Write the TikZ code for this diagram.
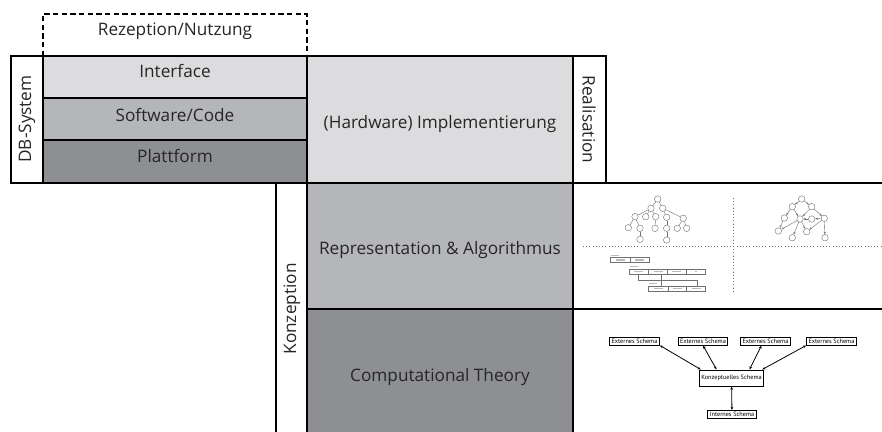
\documentclass[tikz,border=0pt]{standalone}
\usepackage{fontspec}
\setmainfont{Open Sans}
\newfontfamily\schemafont{PT Sans}
\usetikzlibrary{arrows.meta}

\newcommand{\pxu}{0.75pt}
\definecolor{layerA}{HTML}{DCDCDE}
\definecolor{layerB}{HTML}{B5B6B9}
\definecolor{layerC}{HTML}{8E8F92}
\definecolor{sketch}{HTML}{707070}

\tikzset{
	layer/.style={draw, line width=1.5pt, anchor=north west, inner sep=0pt, outer sep=0pt},
	lbl/.style={anchor=base, font=\fontsize{12.9}{15}\selectfont, text=black!85},
	side/.style={font=\fontsize{12.9}{15}\selectfont, text=black!85, inner sep=0pt},
	tn/.style={circle, draw=sketch, line width=0.3pt, minimum size=6.5*\pxu, inner sep=0pt},
	te/.style={draw=sketch, line width=0.3pt},
	ge/.style={draw=sketch, line width=0.3pt, -{Stealth[length=2pt,width=1.6pt]}},
	schema/.style={draw, line width=0.7pt, inner xsep=1.5pt, inner ysep=0.5pt,
		minimum height=8*\pxu, font=\schemafont\fontsize{4.7}{5}\selectfont},
	sa/.style={line width=0.6pt, {Stealth[length=2.5pt,width=2pt]}-{Stealth[length=2.5pt,width=2pt]}},
}

\begin{document}
\begin{tikzpicture}[x=\pxu, y=-\pxu]
	\useasboundingbox (0,0) rectangle (882,432);
	\begin{scope}
		\clip (0,0) rectangle (882,432);
		% DB-System
		\node[layer, fill=white, minimum width=32*\pxu, minimum height=127*\pxu] (dbsys) at (11,56) {};
		\node[layer, fill=layerA, minimum width=264*\pxu, minimum height=42*\pxu] (iface) at (43,56) {};
		\node[layer, fill=layerB, minimum width=264*\pxu, minimum height=42*\pxu] (soft) at (43,98) {};
		\node[layer, fill=layerC, minimum width=264*\pxu, minimum height=43*\pxu] (platt) at (43,140) {};
		% Realisation
		\node[layer, fill=layerA, minimum width=266*\pxu, minimum height=127*\pxu] (hw) at (307,56) {};
		\node[layer, fill=white, minimum width=33*\pxu, minimum height=127*\pxu] (real) at (573,56) {};
		% Konzeption
		\node[layer, fill=white, minimum width=31*\pxu, minimum height=262*\pxu] (konz) at (276,183) {};
		\node[layer, fill=layerB, minimum width=266*\pxu, minimum height=126*\pxu] (repr) at (307,183) {};
		\node[layer, fill=layerC, minimum width=266*\pxu, minimum height=136*\pxu] (comp) at (307,309) {};
		\node[layer, fill=white, minimum width=322*\pxu, minimum height=126*\pxu] (reprex) at (573,183) {};
		\node[layer, fill=white, minimum width=322*\pxu, minimum height=136*\pxu] (compex) at (573,309) {};
	\end{scope}

	% Rezeption/Nutzung
	\draw[line width=1.3pt, dash pattern=on 4pt off 2.5pt]
		(iface.north west) -- ++(0,-42) coordinate (rzp) -| (iface.north east);
	\node[lbl] (rez) at (175,35) {Rezeption/Nutzung};

	\node[lbl] (ifacetxt) at (175,77) {Interface};
	\node[lbl] (softtxt) at (175,121) {Software/Code};
	\node[lbl] (platttxt) at (175,162) {Plattform};
	\node[lbl] (hwtxt) at (440,128) {(Hardware) Implementierung};
	\node[lbl] (reprtxt) at (440,254) {Representation \& Algorithmus};
	\node[lbl] (comptxt) at (440,381) {Computational Theory};
	\node[side, rotate=90] (dbtxt) at (27,119) {DB-System};
	\node[side, rotate=-90] (realtxt) at (589,119.5) {Realisation};
	\node[side, rotate=90] (konztxt) at (292,309) {Konzeption};

	% Baum
	\foreach \n/\x/\y in {r/657.7/199, a/651/208.3, b/662.7/208.3, c/635/216.7, d/645.7/216.7,
		e/655.7/216.7, f/666.7/217.3, g/683.3/218.3, h/628.3/227.7, i/640/228.3, j/655/228.3,
		k/666.7/228.3, l/677.3/228.3, m/686.7/228.3, n/640/239.3, o/666.7/240}
		\node[tn] (t\n) at (\x,\y) {};
	\foreach \p/\c in {r/a, r/b, a/c, a/d, a/e, b/f, b/g, c/h, c/i, e/j, f/k, g/l, g/m, i/n, k/o}
		\draw[te] (t\p) -- (t\c);

	% Graph
	\foreach \n/\x/\y in {A/801.7/199, B/792.3/206.7, C/811.7/206.7, D/784.3/218, E/800/219,
		F/811.7/219, G/824.3/218.3, H/778.3/231, I/806.7/231.7, J/792.3/237.7, K/825/237.7}
		\node[tn] (g\n) at (\x,\y) {};
	\foreach \p/\c in {A/B, A/C, B/E, B/D, D/H, C/E, C/G, G/F, F/E, E/H, E/J, E/I, G/I, G/K}
		\draw[ge] (g\p) -- (g\c);

	% Trennlinien
	\draw[sketch, line width=0.4pt, dotted] (733,198) -- (733,293);
	\draw[sketch, line width=0.4pt, dotted] (583,246) -- (882,246);

	% Relationen
	\begin{scope}[draw=sketch, line width=0.35pt]
		\draw (610.7,257.7) rectangle (649,262.3) (630,257.7) -- (630,262.3);
		\draw (629.3,269.3) rectangle (705.7,274.3)
			(648.3,269.3) -- (648.3,274.3) (667.7,269.3) -- (667.7,274.3) (686,269.3) -- (686,274.3);
		\draw (648.7,286) rectangle (705.7,291)
			(668.3,286) -- (668.3,291) (686.7,286) -- (686.7,291);
		\draw (638.3,274.3) -- (638.3,280) -| (697.3,286);
		\draw (661.7,274.3) -- (661.7,286);
	\end{scope}
	\begin{scope}[draw=gray!55, line width=0.8pt]
		\foreach \x/\y in {616/255.2, 635/266.7, 654/283.6}
			\draw (\x-5,\y) -- (\x+3,\y);
		\foreach \x/\y in {620.3/260, 639.5/260, 638.8/271.8, 658/271.8, 676.8/271.8,
			658.5/288.5, 677.5/288.5, 696.2/288.5}
			\draw (\x-4.5,\y) -- (\x+4.5,\y);
		\draw (694.5,271.8) -- (697,271.8);
	\end{scope}

	% Schema-Ebenen
	\node[schema] (es1) at (634.5,341) {Externes Schema};
	\node[schema] (es2) at (703,341) {Externes Schema};
	\node[schema] (es3) at (765.5,341) {Externes Schema};
	\node[schema] (es4) at (831.5,341) {Externes Schema};
	\node[schema, minimum height=16*\pxu] (ks) at (731.5,378) {Konzeptuelles Schema};
	\node[schema] (is) at (732,414.5) {Internes Schema};
	\draw[sa] (es1.south east) -- ([xshift=2*\pxu]ks.north west);
	\draw[sa] (es2.south) -- ([xshift=-15*\pxu]ks.north);
	\draw[sa] ([xshift=-4*\pxu]es3.south) -- ([xshift=18*\pxu]ks.north);
	\draw[sa] (es4.south west) -- ([xshift=-2*\pxu]ks.north east);
	\draw[sa] (ks) -- (is);
\end{tikzpicture}
\end{document}
